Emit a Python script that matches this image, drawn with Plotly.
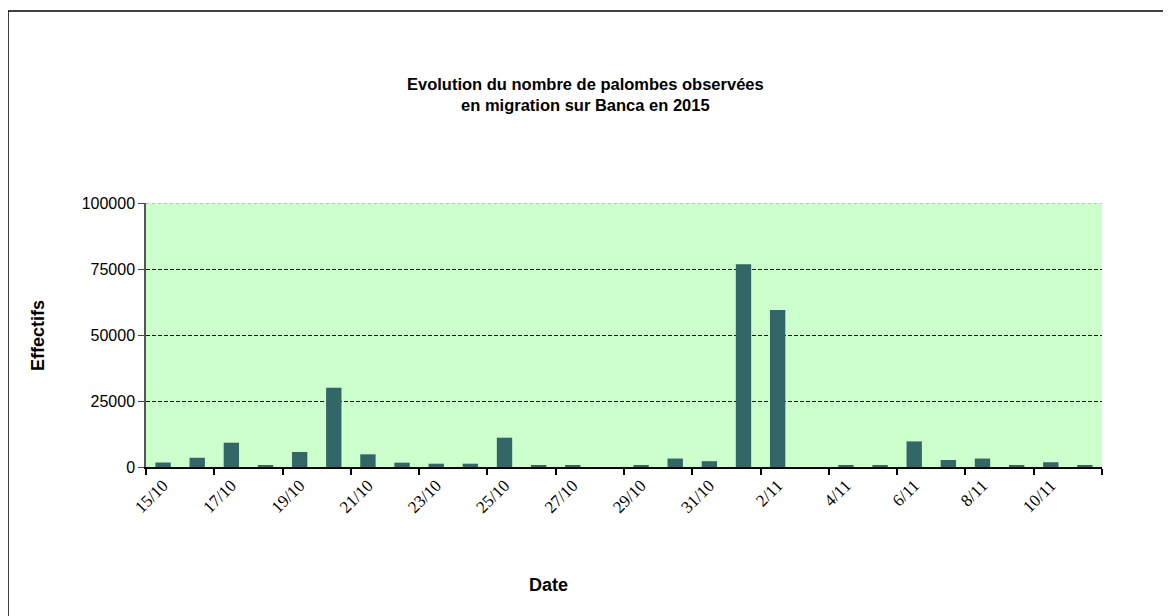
import plotly.graph_objects as go

dates = ["15/10", "16/10", "17/10", "18/10", "19/10", "20/10", "21/10", "22/10",
         "23/10", "24/10", "25/10", "26/10", "27/10", "28/10", "29/10", "30/10",
         "31/10", "1/11", "2/11", "3/11", "4/11", "5/11", "6/11", "7/11",
         "8/11", "9/11", "10/11", "11/11"]
effectifs = [1700, 3500, 9200, 400, 5700, 30000, 4800, 1650,
             1250, 1250, 11100, 400, 400, 0, 500, 3200,
             2200, 76800, 59500, 0, 500, 500, 9700, 2650,
             3200, 500, 1800, 500]
y_ticks = [0, 25000, 50000, 75000, 100000]

pos = list(range(len(dates)))
label_pos = pos[::2]
label_text = dates[::2]
boundary_ticks = [p - 0.5 for p in pos[::2]] + [pos[-1] + 0.5]

fig = go.Figure()
fig.add_trace(go.Bar(
    x=pos, y=effectifs,
    marker=dict(color="#336666", line=dict(width=0)),
    width=0.45,
    hoverinfo="skip",
))

W, H = 1171, 616
# page has an 8px body margin, so figure coords = reference coords - 8
L, R, T, B = 138, 1094, 195, 459

def px_to_paper_x(px):
    return (px - L) / (R - L)

def px_to_paper_y(py):
    return (B - py) / (B - T)

fig.update_layout(
    width=W, height=H,
    margin=dict(l=L, r=W - R, t=T, b=H - B),
    paper_bgcolor="white",
    plot_bgcolor="#CCFFCC",
    showlegend=False,
    bargap=0.55,
    font=dict(family="Liberation Sans, Arial, sans-serif", color="black"),
    xaxis=dict(
        range=[-0.5, len(dates) - 0.5],
        tickmode="array", tickvals=label_pos, ticktext=label_text,
        ticks="", tickangle=-45,
        tickfont=dict(family="Liberation Serif, Times New Roman, serif", size=17, color="black"),
        showline=True, linecolor="black", linewidth=1.5,
        showgrid=False, zeroline=False,
        minor=dict(tickmode="array", tickvals=boundary_ticks, ticks="outside",
                   ticklen=6, tickcolor="black", tickwidth=1.5, showgrid=False),
        fixedrange=True,
    ),
    yaxis=dict(
        range=[0, 100000],
        tickmode="array", tickvals=y_ticks, ticktext=[str(v) for v in y_ticks],
        ticks="outside", ticklen=6, tickcolor="#444", tickwidth=1,
        tickfont=dict(family="Liberation Sans, Arial, sans-serif", size=16, color="black"),
        showline=True, linecolor="#555", linewidth=1.5,
        showgrid=True, gridcolor="#111", griddash="4px,2px", gridwidth=1,
        zeroline=False,
        fixedrange=True,
    ),
    annotations=[
        dict(text="<b>Evolution du nombre de palombes observées<br>en migration sur Banca en 2015</b>",
             xref="paper", yref="paper", x=px_to_paper_x(577.5), y=px_to_paper_y(86.5),
             showarrow=False, font=dict(size=16.5, family="Liberation Sans, Arial, sans-serif"),
             xanchor="center", yanchor="middle"),
        dict(text="<b>Effectifs</b>", textangle=-90,
             xref="paper", yref="paper", x=px_to_paper_x(30), y=px_to_paper_y(328),
             showarrow=False, font=dict(size=18), xanchor="center", yanchor="middle"),
        dict(text="<b>Date</b>",
             xref="paper", yref="paper", x=px_to_paper_x(540), y=px_to_paper_y(577),
             showarrow=False, font=dict(size=18), xanchor="center", yanchor="middle"),
    ],
    shapes=[
        dict(type="line", xref="paper", yref="y", x0=0, x1=1, y0=100000, y1=100000,
             line=dict(color="#CCFFCC", width=2), layer="above"),
        dict(type="line", xref="paper", yref="y", x0=0, x1=1, y0=100000, y1=100000,
             line=dict(color="#999999", width=1, dash="dot"), layer="above"),
        dict(type="line", xref="paper", yref="paper",
             x0=px_to_paper_x(0), x1=px_to_paper_x(0), y0=px_to_paper_y(3), y1=px_to_paper_y(640),
             line=dict(color="black", width=1.5)),
        dict(type="line", xref="paper", yref="paper",
             x0=px_to_paper_x(0), x1=px_to_paper_x(1200), y0=px_to_paper_y(3), y1=px_to_paper_y(3),
             line=dict(color="black", width=1.5)),
    ],
)

fig.write_html("out.html")
